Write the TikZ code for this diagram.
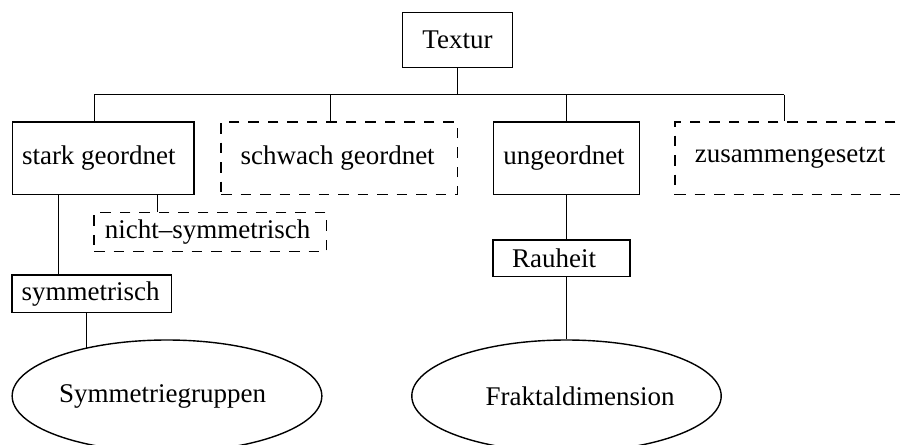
\documentclass[tikz,border=0pt]{standalone}
\usepackage{fontspec}
\setmainfont{Liberation Serif}
\usetikzlibrary{shapes.geometric}
\begin{document}
\begin{tikzpicture}[x=1pt,y=-1pt,
  every node/.style={font=\fontsize{27}{32}\selectfont, inner sep=0pt},
  solidbox/.style={draw, rectangle, line width=1.4pt},
  dashbox/.style={draw, rectangle, line width=1.4pt, dash pattern=on 10.5pt off 9pt},
  ovalbox/.style={draw, ellipse, line width=1.4pt},
  conn/.style={line width=1.4pt}]
\useasboundingbox (0,0) rectangle (901,444);
\clip (0,0) rectangle (901,444);
% nodes
\node[solidbox, minimum width=109.6pt, minimum height=55pt] (textur) at (457.5,40.2) {Textur};
\node[solidbox, minimum width=181.7pt, minimum height=72.3pt] (stark) at (103.15,158.15) {stark geordnet\hspace*{8.6pt}};
\node[dashbox, minimum width=236.3pt, minimum height=72.3pt] (schwach) at (339.15,158.15) {schwach geordnet\hspace*{3pt}};
\node[solidbox, minimum width=145.6pt, minimum height=72.3pt] (unge) at (566.5,158.15) {ungeordnet\hspace*{5pt}};
\node[dashbox, minimum width=230pt, minimum height=72.3pt] (zus) at (790,158.15) {zusammengesetzt};
\node[dashbox, minimum width=232.7pt, minimum height=39pt] (nicht) at (210.35,232.2) {nicht--symmetrisch\hspace*{5.7pt}};
\node[solidbox, minimum width=159.7pt, minimum height=37.7pt] (symm) at (91.85,293.85) {symmetrisch\hspace*{2.7pt}};
\node[solidbox, minimum width=137pt, minimum height=36.7pt] (rauh) at (561.65,258.35) {Rauheit\hspace*{15pt}};
\node[ovalbox, minimum width=309.7pt, minimum height=112pt] (ell1) at (167,396) {Symmetriegruppen\hspace*{9pt}};
\node[ovalbox, minimum width=309.4pt, minimum height=112pt] (ell2) at (566.5,396) {\hspace*{27pt}Fraktaldimension};
% bus coordinates
\coordinate (busL) at (94.3,94.7);
\coordinate (busS) at (330.3,94.7);
\coordinate (busR) at (784.3,94.7);
\coordinate (s1) at (58.3,0);
\coordinate (s2) at (157.7,0);
% connectors
\draw[conn] (busL) -- (busR);
\draw[conn] (textur.south) -- (textur.south |- busL);
\draw[conn] (busL) -- (busL |- stark.north);
\draw[conn] (busS) -- (busS |- schwach.north);
\draw[conn] (unge.north |- busL) -- (unge.north);
\draw[conn] (busR) -- (busR |- zus.north);
\draw[conn] (stark.south -| s1) -- (symm.north -| s1);
\draw[conn] (stark.south -| s2) -- (nicht.north -| s2);
\draw[conn] (symm.south -| ell1.149.9) -- (ell1.149.9);
\draw[conn] (unge.south) -- (unge.south |- rauh.north);
\draw[conn] (rauh.south -| ell2.north) -- (ell2.north);
\end{tikzpicture}
\end{document}
